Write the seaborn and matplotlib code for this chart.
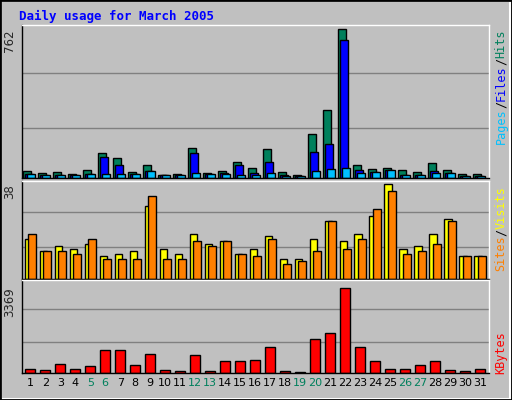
import numpy as np
import matplotlib
matplotlib.use("Agg")
import matplotlib.pyplot as plt
import seaborn as sns

# Daily usage values
days = np.arange(1, 32)
hits = [38, 28, 33, 22, 43, 126, 105, 33, 69, 17, 22, 152, 28, 38, 84, 53, 147, 33, 17, 224,
        348, 762, 69, 48, 53, 43, 33, 79, 43, 22, 22]
files = [22, 17, 17, 17, 22, 110, 69, 22, 38, 17, 17, 126, 22, 28, 69, 28, 84, 17, 12, 131,
         172, 710, 43, 33, 43, 17, 17, 38, 28, 12, 12]
pages = [22, 17, 17, 17, 22, 22, 22, 22, 38, 17, 17, 28, 22, 22, 17, 17, 28, 12, 12, 38,
         48, 53, 28, 33, 43, 17, 17, 28, 28, 12, 12]
sites = [16, 11, 13, 12, 14, 9, 10, 11, 29, 12, 10, 18, 14, 15, 10, 12, 17, 8, 8, 16,
         23, 15, 18, 25, 38, 12, 13, 18, 24, 9, 9]
visits = [18, 11, 11, 10, 16, 8, 8, 8, 33, 8, 8, 15, 13, 15, 10, 9, 16, 6, 7, 11,
          23, 12, 16, 28, 35, 10, 11, 14, 23, 9, 9]
kbytes = [160, 123, 344, 160, 270, 898, 898, 307, 750, 123, 86, 713, 86, 455, 492, 529, 1008, 86, 37, 1340,
          1562, 3369, 1008, 455, 160, 160, 307, 455, 123, 86, 160]
weekends = [5, 6, 12, 13, 19, 20, 26, 27]

sns.set_style("white")
plt.rcParams['font.family'] = ['DejaVu Sans Mono', 'DejaVu Sans']

fig = plt.figure(figsize=(5.12, 4.0), dpi=100)
fig.patch.set_facecolor("#C0C0C0")
# 3d-ish frame
fig.add_artist(plt.Rectangle((0.002, 0.003), 0.995, 0.994, transform=fig.transFigure,
                             fill=False, edgecolor="white", linewidth=1.5))
fig.add_artist(plt.Rectangle((0.0, 0.0), 1, 1, transform=fig.transFigure,
                             fill=False, edgecolor="black", linewidth=2))

ax1 = fig.add_axes([0.043, 0.555, 0.912, 0.3825])
ax2 = fig.add_axes([0.043, 0.3025, 0.912, 0.245])
ax3 = fig.add_axes([0.043, 0.0675, 0.912, 0.2325])


def bars(ax, x, y, color, width):
    sns.barplot(x=x, y=y, native_scale=True, width=width, color=color, saturation=1,
                edgecolor="black", linewidth=1, ax=ax)


bars(ax1, days - 0.2, hits, "#00805C", 0.52)
bars(ax1, days - 0.07, files, "#0000FF", 0.52)
bars(ax1, days + 0.07, pages, "#00C0FF", 0.52)
bars(ax2, days - 0.12, sites, "#FFFF00", 0.5)
bars(ax2, days + 0.12, visits, "#FF8000", 0.5)
bars(ax3, days, kbytes, "#FF0000", 0.66)

for ax, mx, label, hx in [(ax1, 762, "762", 1.03), (ax2, 38, "38", 1.03), (ax3, 3369, "3369", 1.09)]:
    ax.set_facecolor("#C0C0C0")
    ax.set_xlim(0.45, 31.6)
    ax.set_ylim(0, mx * hx)
    for f in (0.33, 0.685):
        ax.axhline(mx * hx * f, color="#808080", linewidth=1, zorder=0)
    ax.set_xticks([])
    ax.set_yticks([])
    ax.set_xlabel("")
    ax.set_ylabel("")
    for s in ax.spines.values():
        s.set_color("black")
        s.set_linewidth(1)
    ax.spines["top"].set_color("white")
    ax.spines["right"].set_color("white")
    ax.text(-0.012, mx / (mx * hx), label, transform=ax.transAxes, rotation=90,
            ha="right", va="top", fontsize=8.5, family="DejaVu Sans")

for d in days:
    ax3.text(d, -0.05, str(d), transform=ax3.get_xaxis_transform(), ha="center", va="top",
             fontsize=8, family="DejaVu Sans",
             color="#00805C" if d in weekends else "black")

renderer = fig.canvas.get_renderer()


def side_label(ax, parts, y_top):
    # stack coloured pieces bottom-to-top, ending at y_top (axes fraction)
    texts = [ax.text(1.012, 0, txt, transform=ax.transAxes, rotation=90, ha="left",
                     va="bottom", fontsize=8.5, color=col) for txt, col in parts]
    h_ax = ax.get_window_extent(renderer).height
    hs = [t.get_window_extent(renderer).height / h_ax for t in texts]
    y = y_top - sum(hs)
    for t, h in zip(texts, hs):
        t.set_y(y)
        y += h


side_label(ax1, [("Pages", "#00C0FF"), ("/", "black"), ("Files", "#0000FF"),
                 ("/", "black"), ("Hits", "#00805C")], 0.97)
side_label(ax2, [("Sites", "#FF8000"), ("/", "black"), ("Visits", "#FFFF00")], 0.95)
side_label(ax3, [("KBytes", "#FF0000")], 0.45)

fig.text(0.037, 0.958, "Daily usage for March 2005", color="#0000FF", fontsize=9,
         fontweight="bold", va="center")

fig.savefig("out.png", dpi=100, facecolor=fig.get_facecolor())
